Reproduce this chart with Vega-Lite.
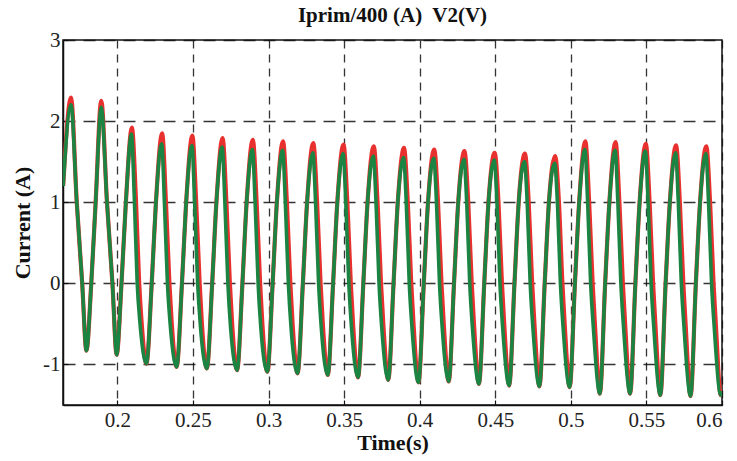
{
  "$schema": "https://vega.github.io/schema/vega-lite/v6.json",
  "width": 659,
  "height": 365,
  "autosize": {"type": "none"},
  "padding": {"left": 63, "top": 40, "right": 15, "bottom": 56},
  "background": "white",
  "title": {"text": "Iprim/400 (A)\u00a0 V2(V)", "font": "Liberation Serif", "fontSize": 21, "fontWeight": "bold", "color": "#111", "offset": 3},
  "config": {
    "view": {"stroke": "#111", "strokeWidth": 1.5},
    "axis": {
      "domainColor": "#111", "domainWidth": 1.5,
      "tickColor": "#111", "tickSize": -5, "tickWidth": 1.2,
      "grid": true, "gridColor": "#111", "gridOpacity": 0.85, "gridWidth": 1.3,
      "labelFont": "Liberation Serif", "labelFontSize": 21, "labelColor": "#222",
      "titleFont": "Liberation Serif", "titleFontSize": 22, "titleFontWeight": "bold", "titleColor": "#111"
    }
  },
  "datasets": {
    "red": [
      {"t":0.1641,"v":1.2},
      {"t":0.1693,"v":2.29},{"t":0.1731,"v":1.0},{"t":0.1767,"v":0},{"t":0.1795,"v":-0.83},{"t":0.1827,"v":0},{"t":0.1856,"v":1},
      {"t":0.1893,"v":2.25},{"t":0.1931,"v":1.0},{"t":0.1967,"v":0},{"t":0.1995,"v":-0.88},{"t":0.2027,"v":0},{"t":0.2056,"v":1},
      {"t":0.2096,"v":1.92},{"t":0.2121,"v":1.1},{"t":0.2144,"v":0},{"t":0.2159,"v":-0.45},{"t":0.2192,"v":-0.99},{"t":0.2227,"v":0},{"t":0.2255,"v":1},
      {"t":0.2296,"v":1.85},{"t":0.2321,"v":1},{"t":0.2344,"v":0},{"t":0.2359,"v":-0.48},{"t":0.2392,"v":-1.03},{"t":0.2427,"v":0},{"t":0.2455,"v":1},
      {"t":0.2496,"v":1.82},{"t":0.2521,"v":1},{"t":0.2544,"v":0},{"t":0.2559,"v":-0.5},{"t":0.2592,"v":-1.05},{"t":0.2627,"v":0},{"t":0.2655,"v":1},
      {"t":0.2696,"v":1.79},{"t":0.2721,"v":1},{"t":0.2744,"v":0},{"t":0.2759,"v":-0.5},{"t":0.2792,"v":-1.07},{"t":0.2827,"v":0},{"t":0.2855,"v":1},
      {"t":0.2896,"v":1.77},{"t":0.2921,"v":1},{"t":0.2944,"v":0},{"t":0.2959,"v":-0.5},{"t":0.2992,"v":-1.09},{"t":0.3027,"v":0},{"t":0.3055,"v":1},
      {"t":0.3096,"v":1.75},{"t":0.3121,"v":1},{"t":0.3144,"v":0},{"t":0.3159,"v":-0.5},{"t":0.3192,"v":-1.11},{"t":0.3227,"v":0},{"t":0.3255,"v":1},
      {"t":0.3296,"v":1.73},{"t":0.3321,"v":1},{"t":0.3344,"v":0},{"t":0.3359,"v":-0.5},{"t":0.3392,"v":-1.13},{"t":0.3427,"v":0},{"t":0.3455,"v":1},
      {"t":0.3496,"v":1.71},{"t":0.3521,"v":1},{"t":0.3544,"v":0},{"t":0.3559,"v":-0.5},{"t":0.3592,"v":-1.16},{"t":0.3627,"v":0},{"t":0.3655,"v":1},
      {"t":0.3696,"v":1.69},{"t":0.3721,"v":1},{"t":0.3744,"v":0},{"t":0.3759,"v":-0.5},{"t":0.3792,"v":-1.19},{"t":0.3827,"v":0},{"t":0.3855,"v":1},
      {"t":0.3896,"v":1.67},{"t":0.3921,"v":1},{"t":0.3944,"v":0},{"t":0.3959,"v":-0.5},{"t":0.3992,"v":-1.22},{"t":0.4027,"v":0},{"t":0.4055,"v":1},
      {"t":0.4096,"v":1.65},{"t":0.4121,"v":1},{"t":0.4144,"v":0},{"t":0.4159,"v":-0.5},{"t":0.4192,"v":-1.21},{"t":0.4227,"v":0},{"t":0.4255,"v":1},
      {"t":0.4296,"v":1.63},{"t":0.4321,"v":1},{"t":0.4344,"v":0},{"t":0.4359,"v":-0.5},{"t":0.4392,"v":-1.24},{"t":0.4427,"v":0},{"t":0.4455,"v":1},
      {"t":0.4496,"v":1.61},{"t":0.4521,"v":1},{"t":0.4544,"v":0},{"t":0.4559,"v":-0.5},{"t":0.4592,"v":-1.26},{"t":0.4627,"v":0},{"t":0.4655,"v":1},
      {"t":0.4696,"v":1.6},{"t":0.4721,"v":1},{"t":0.4744,"v":0},{"t":0.4759,"v":-0.5},{"t":0.4792,"v":-1.27},{"t":0.4827,"v":0},{"t":0.4855,"v":1},
      {"t":0.4896,"v":1.57},{"t":0.4921,"v":1},{"t":0.4944,"v":0},{"t":0.4959,"v":-0.5},{"t":0.4992,"v":-1.28},{"t":0.5027,"v":0},{"t":0.5055,"v":1},
      {"t":0.5096,"v":1.75},{"t":0.5121,"v":1},{"t":0.5144,"v":0},{"t":0.5159,"v":-0.5},{"t":0.5192,"v":-1.36},{"t":0.5227,"v":0},{"t":0.5255,"v":1},
      {"t":0.5296,"v":1.74},{"t":0.5321,"v":1},{"t":0.5344,"v":0},{"t":0.5359,"v":-0.5},{"t":0.5392,"v":-1.36},{"t":0.5427,"v":0},{"t":0.5455,"v":1},
      {"t":0.5496,"v":1.72},{"t":0.5521,"v":1},{"t":0.5544,"v":0},{"t":0.5559,"v":-0.5},{"t":0.5592,"v":-1.38},{"t":0.5627,"v":0},{"t":0.5655,"v":1},
      {"t":0.5696,"v":1.7},{"t":0.5721,"v":1},{"t":0.5744,"v":0},{"t":0.5759,"v":-0.5},{"t":0.5792,"v":-1.39},{"t":0.5827,"v":0},{"t":0.5855,"v":1},
      {"t":0.5896,"v":1.69},{"t":0.5921,"v":1},{"t":0.5944,"v":0},{"t":0.5959,"v":-0.5},{"t":0.5992,"v":-1.38},{"t":0.6,"v":-1.33}
    ],
    "green": [
      {"t":0.1641,"v":1.2},
      {"t":0.1693,"v":2.2},{"t":0.1731,"v":1.0},{"t":0.1767,"v":0},{"t":0.1795,"v":-0.83},{"t":0.1827,"v":0},{"t":0.1856,"v":1},
      {"t":0.1893,"v":2.17},{"t":0.1931,"v":1.0},{"t":0.1967,"v":0},{"t":0.1995,"v":-0.88},{"t":0.2027,"v":0},{"t":0.2056,"v":1},
      {"t":0.2093,"v":1.84},{"t":0.2111,"v":1.1},{"t":0.2131,"v":0},{"t":0.2149,"v":-0.48},{"t":0.2192,"v":-0.99},{"t":0.2227,"v":0},{"t":0.2255,"v":1},
      {"t":0.2293,"v":1.72},{"t":0.2311,"v":1},{"t":0.2331,"v":0},{"t":0.2349,"v":-0.5},{"t":0.2392,"v":-1.03},{"t":0.2427,"v":0},{"t":0.2455,"v":1},
      {"t":0.2493,"v":1.7},{"t":0.2511,"v":1},{"t":0.2531,"v":0},{"t":0.2549,"v":-0.52},{"t":0.2592,"v":-1.05},{"t":0.2627,"v":0},{"t":0.2655,"v":1},
      {"t":0.2693,"v":1.68},{"t":0.2711,"v":1},{"t":0.2731,"v":0},{"t":0.2749,"v":-0.55},{"t":0.2792,"v":-1.07},{"t":0.2827,"v":0},{"t":0.2855,"v":1},
      {"t":0.2893,"v":1.65},{"t":0.2911,"v":1},{"t":0.2931,"v":0},{"t":0.2949,"v":-0.55},{"t":0.2992,"v":-1.09},{"t":0.3027,"v":0},{"t":0.3055,"v":1},
      {"t":0.3093,"v":1.64},{"t":0.3111,"v":1},{"t":0.3131,"v":0},{"t":0.3149,"v":-0.55},{"t":0.3192,"v":-1.11},{"t":0.3227,"v":0},{"t":0.3255,"v":1},
      {"t":0.3293,"v":1.61},{"t":0.3311,"v":1},{"t":0.3331,"v":0},{"t":0.3349,"v":-0.55},{"t":0.3392,"v":-1.13},{"t":0.3427,"v":0},{"t":0.3455,"v":1},
      {"t":0.3493,"v":1.6},{"t":0.3511,"v":1},{"t":0.3531,"v":0},{"t":0.3549,"v":-0.55},{"t":0.3592,"v":-1.16},{"t":0.3627,"v":0},{"t":0.3655,"v":1},
      {"t":0.3693,"v":1.57},{"t":0.3711,"v":1},{"t":0.3731,"v":0},{"t":0.3749,"v":-0.55},{"t":0.3792,"v":-1.19},{"t":0.3827,"v":0},{"t":0.3855,"v":1},
      {"t":0.3893,"v":1.55},{"t":0.3911,"v":1},{"t":0.3931,"v":0},{"t":0.3949,"v":-0.55},{"t":0.3992,"v":-1.22},{"t":0.4027,"v":0},{"t":0.4055,"v":1},
      {"t":0.4093,"v":1.54},{"t":0.4111,"v":1},{"t":0.4131,"v":0},{"t":0.4149,"v":-0.55},{"t":0.4192,"v":-1.21},{"t":0.4227,"v":0},{"t":0.4255,"v":1},
      {"t":0.4293,"v":1.53},{"t":0.4311,"v":1},{"t":0.4331,"v":0},{"t":0.4349,"v":-0.55},{"t":0.4392,"v":-1.24},{"t":0.4427,"v":0},{"t":0.4455,"v":1},
      {"t":0.4493,"v":1.52},{"t":0.4511,"v":1},{"t":0.4531,"v":0},{"t":0.4549,"v":-0.55},{"t":0.4592,"v":-1.26},{"t":0.4627,"v":0},{"t":0.4655,"v":1},
      {"t":0.4693,"v":1.5},{"t":0.4711,"v":1},{"t":0.4731,"v":0},{"t":0.4749,"v":-0.55},{"t":0.4792,"v":-1.27},{"t":0.4827,"v":0},{"t":0.4855,"v":1},
      {"t":0.4893,"v":1.48},{"t":0.4911,"v":1},{"t":0.4931,"v":0},{"t":0.4949,"v":-0.55},{"t":0.4992,"v":-1.28},{"t":0.5027,"v":0},{"t":0.5055,"v":1},
      {"t":0.5093,"v":1.65},{"t":0.5111,"v":1},{"t":0.5131,"v":0},{"t":0.5149,"v":-0.55},{"t":0.5192,"v":-1.36},{"t":0.5227,"v":0},{"t":0.5255,"v":1},
      {"t":0.5293,"v":1.64},{"t":0.5311,"v":1},{"t":0.5331,"v":0},{"t":0.5349,"v":-0.55},{"t":0.5392,"v":-1.36},{"t":0.5427,"v":0},{"t":0.5455,"v":1},
      {"t":0.5493,"v":1.63},{"t":0.5511,"v":1},{"t":0.5531,"v":0},{"t":0.5549,"v":-0.55},{"t":0.5592,"v":-1.38},{"t":0.5627,"v":0},{"t":0.5655,"v":1},
      {"t":0.5693,"v":1.61},{"t":0.5711,"v":1},{"t":0.5731,"v":0},{"t":0.5749,"v":-0.55},{"t":0.5792,"v":-1.39},{"t":0.5827,"v":0},{"t":0.5855,"v":1},
      {"t":0.5893,"v":1.6},{"t":0.5911,"v":1},{"t":0.5931,"v":0},{"t":0.5949,"v":-0.55},{"t":0.5992,"v":-1.38},{"t":0.6,"v":-1.33}
    ]
  },
  "encoding": {
    "x": {"field": "t", "type": "quantitative",
      "scale": {"domain": [0.164, 0.6], "nice": false, "zero": false},
      "axis": {"title": "Time(s)", "values": [0.2,0.25,0.3,0.35,0.4,0.45,0.5,0.55,0.6], "format": ".2~f", "gridDash": [8,6], "labelPadding": 9, "titlePadding": 2}},
    "y": {"field": "v", "type": "quantitative",
      "scale": {"domain": [-1.5, 3], "nice": false, "zero": false},
      "axis": {"title": "Current (A)", "values": [-1,0,1,2,3], "labelExpr": "'' + datum.value", "gridDash": [12,8], "labelPadding": 8, "titlePadding": 8}}
  },
  "layer": [
    {"data": {"name": "red"}, "mark": {"type": "line", "color": "#e8312e", "strokeWidth": 4.2, "interpolate": "monotone", "clip": true}},
    {"data": {"name": "green"}, "mark": {"type": "line", "color": "#1b8443", "strokeWidth": 3.6, "interpolate": "monotone", "clip": true}}
  ]
}
